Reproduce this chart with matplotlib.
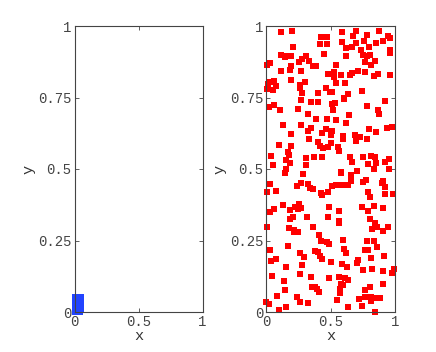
import numpy as np
import matplotlib
matplotlib.use("Agg")
import matplotlib.pyplot as plt

# === DATA ===
pts_x = [
    0.114, 0.204, 0.426, 0.475, 0.419, 0.475, 0.212, 0.116, 0.145, 0.163, 0.194, 0.452, 0.308, 0.282,
    0.256, 0.333, 0.364, 0.390, 0.191, 0.034, 0.008, 0.183, 0.119, 0.269, 0.478, 0.194, 0.065, 0.028,
    0.305, 0.266, 0.264, 0.075, 0.013, 0.005, 0.057, 0.465, 0.403, 0.282, 0.496,
    0.587, 0.700, 0.674, 0.786, 0.874, 0.948, 0.964, 0.589, 0.760, 0.695, 0.618, 0.669, 0.853, 0.904,
    0.801, 0.734, 0.964, 0.961, 0.809, 0.749, 0.786, 0.622, 0.845, 0.765, 0.814, 0.540, 0.716, 0.664,
    0.651, 0.770, 0.866, 0.837, 0.579, 0.525, 0.527, 0.964, 0.545, 0.612, 0.509, 0.744, 0.638, 0.602,
    0.274, 0.346, 0.405, 0.059, 0.021, 0.109, 0.248, 0.326, 0.388, 0.473, 0.132, 0.269, 0.346, 0.328,
    0.463, 0.196, 0.437, 0.336, 0.403, 0.098, 0.191, 0.416, 0.444, 0.481, 0.168, 0.176, 0.041, 0.313,
    0.370, 0.437, 0.155, 0.183, 0.054, 0.308, 0.157,
    0.920, 0.512, 0.537, 0.602, 0.783, 0.517, 0.868, 0.879, 0.643, 0.543, 0.620, 0.801, 0.855, 0.938,
    0.977, 0.509, 0.501, 0.594, 0.597, 0.688, 0.700, 0.731, 0.698, 0.786, 0.501, 0.558, 0.568, 0.651,
    0.749, 0.811, 0.842, 0.953, 0.664, 0.793, 0.853, 0.922, 0.584, 0.705, 0.840,
    0.145, 0.284, 0.028, 0.005, 0.080, 0.274, 0.243, 0.326, 0.344, 0.364, 0.426, 0.437, 0.481, 0.132,
    0.253, 0.189, 0.222, 0.274, 0.248, 0.481, 0.031, 0.065, 0.212, 0.189, 0.315, 0.008, 0.176, 0.214,
    0.217, 0.246, 0.367, 0.408, 0.429, 0.475, 0.171,
    0.584, 0.659, 0.953, 0.661, 0.514, 0.543, 0.589, 0.638, 0.749, 0.778, 0.897, 0.909, 0.925, 0.788,
    0.809, 0.920, 0.984, 0.491, 0.563, 0.742, 0.791, 0.835, 0.907, 0.566, 0.566, 0.804, 0.842, 0.863,
    0.819, 0.943, 0.904, 0.597, 0.781, 0.835, 0.486,
    0.031, 0.041, 0.080, 0.266, 0.292, 0.282, 0.377, 0.403, 0.419, 0.434, 0.157, 0.264, 0.049, 0.137,
    0.351, 0.357, 0.377, 0.398, 0.411, 0.150, 0.083, 0.238, 0.000, 0.023, 0.261, 0.328, 0.157, 0.098,
    0.607, 0.622, 0.863, 0.770, 0.793, 0.501, 0.589, 0.625, 0.711, 0.705, 0.816, 0.917, 0.749, 0.822,
    0.909, 0.990, 0.979, 0.491, 0.568, 0.610, 0.638, 0.584, 0.599, 0.574, 0.571, 0.770, 0.809, 0.909,
    0.767, 0.816, 0.858, 0.884, 0.811, 0.548, 0.719, 0.633, 0.744, 0.842,
]
pts_y = [
    0.978, 0.981, 0.960, 0.963, 0.936, 0.936, 0.928, 0.900, 0.891, 0.894, 0.894, 0.902, 0.894, 0.886,
    0.875, 0.876, 0.861, 0.860, 0.861, 0.869, 0.865, 0.846, 0.843, 0.843, 0.831, 0.812, 0.808, 0.803,
    0.805, 0.793, 0.784, 0.791, 0.796, 0.779, 0.775, 0.782, 0.767, 0.764, 0.770,
    0.978, 0.983, 0.965, 0.970, 0.981, 0.966, 0.957, 0.944, 0.948, 0.939, 0.923, 0.928, 0.941, 0.946,
    0.925, 0.915, 0.916, 0.907, 0.900, 0.900, 0.895, 0.895, 0.876, 0.874, 0.865, 0.864, 0.844, 0.835,
    0.829, 0.838, 0.832, 0.824, 0.829, 0.838, 0.821, 0.829, 0.800, 0.802, 0.770, 0.774, 0.762, 0.750,
    0.742, 0.735, 0.734, 0.723, 0.717, 0.707, 0.709, 0.691, 0.675, 0.676, 0.655, 0.653, 0.644, 0.632,
    0.641, 0.624, 0.625, 0.606, 0.596, 0.585, 0.579, 0.582, 0.573, 0.576, 0.561, 0.550, 0.547, 0.540,
    0.543, 0.541, 0.530, 0.520, 0.514, 0.515, 0.499,
    0.738, 0.727, 0.730, 0.746, 0.719, 0.706, 0.705, 0.691, 0.688, 0.672, 0.660, 0.639, 0.630, 0.644,
    0.648, 0.632, 0.618, 0.614, 0.605, 0.619, 0.609, 0.611, 0.597, 0.606, 0.592, 0.576, 0.562, 0.541,
    0.542, 0.544, 0.541, 0.535, 0.524, 0.518, 0.522, 0.523, 0.491, 0.494, 0.499,
    0.486, 0.481, 0.448, 0.419, 0.422, 0.452, 0.441, 0.448, 0.434, 0.430, 0.417, 0.408, 0.419, 0.375,
    0.379, 0.356, 0.366, 0.363, 0.360, 0.332, 0.349, 0.359, 0.332, 0.325, 0.331, 0.296, 0.295, 0.288,
    0.279, 0.280, 0.297, 0.268, 0.249, 0.245, 0.232,
    0.485, 0.479, 0.500, 0.457, 0.441, 0.443, 0.445, 0.443, 0.455, 0.460, 0.452, 0.459, 0.437, 0.419,
    0.401, 0.414, 0.414, 0.366, 0.354, 0.366, 0.353, 0.369, 0.364, 0.319, 0.310, 0.325, 0.311, 0.298,
    0.290, 0.297, 0.284, 0.253, 0.248, 0.247, 0.238,
    0.216, 0.177, 0.185, 0.206, 0.191, 0.163, 0.214, 0.210, 0.197, 0.184, 0.158, 0.134, 0.127, 0.108,
    0.123, 0.088, 0.086, 0.081, 0.070, 0.076, 0.057, 0.054, 0.035, 0.027, 0.034, 0.030, 0.016, 0.006,
    0.219, 0.207, 0.228, 0.218, 0.217, 0.175, 0.168, 0.157, 0.182, 0.172, 0.190, 0.197, 0.147, 0.151,
    0.142, 0.151, 0.135, 0.119, 0.123, 0.120, 0.113, 0.097, 0.096, 0.081, 0.067, 0.078, 0.086, 0.098,
    0.054, 0.052, 0.050, 0.050, 0.040, 0.043, 0.047, 0.016, 0.020, 0.001,
]
left_scale_x = 0.05   # left panel: same cloud squeezed into the corner
left_scale_y = 0.055

xticks = [0, 0.5, 1]
xticklabels = ["0", "0.5", "1"]
yticks = [0, 0.25, 0.5, 0.75, 1]
yticklabels = ["0", "0.25", "0.5", "0.75", "1"]

# === STYLE ===
plt.rcParams['font.family'] = ['Liberation Mono', 'DejaVu Sans Mono']
plt.rcParams['font.size'] = 10

fig = plt.figure(figsize=(4.36, 3.52), dpi=100)
ax_l = fig.add_axes([74.5 / 436, 40 / 352, 128 / 436, 286 / 352])
ax_r = fig.add_axes([266 / 436, 40 / 352, 129 / 436, 286 / 352])

px = np.array(pts_x)
py = np.array(pts_y)

ax_l.plot(px * left_scale_x, py * left_scale_y, 's', color='#2244ff', markersize=4.0,
          markeredgewidth=0, clip_on=False)
ax_r.plot(px, py, 's', color='#ff0000', markersize=4.0, markeredgewidth=0, clip_on=False)

for ax in (ax_l, ax_r):
    ax.set_xlim(0, 1)
    ax.set_ylim(0, 1)
    ax.set_xticks(xticks)
    ax.set_xticklabels(xticklabels)
    ax.set_yticks(yticks)
    ax.set_yticklabels(yticklabels)
    ax.tick_params(direction='in', length=3, width=0.6, colors='#444444',
                   top=True, right=True, labelsize=10, pad=2)
    for s in ax.spines.values():
        s.set_color('#444444')
        s.set_linewidth(0.8)
    ax.set_xlabel('x', fontsize=11, color='#333333', labelpad=0)
    ax.set_ylabel('y', fontsize=11, color='#333333', labelpad=2)

fig.savefig('out.png', dpi=100)
